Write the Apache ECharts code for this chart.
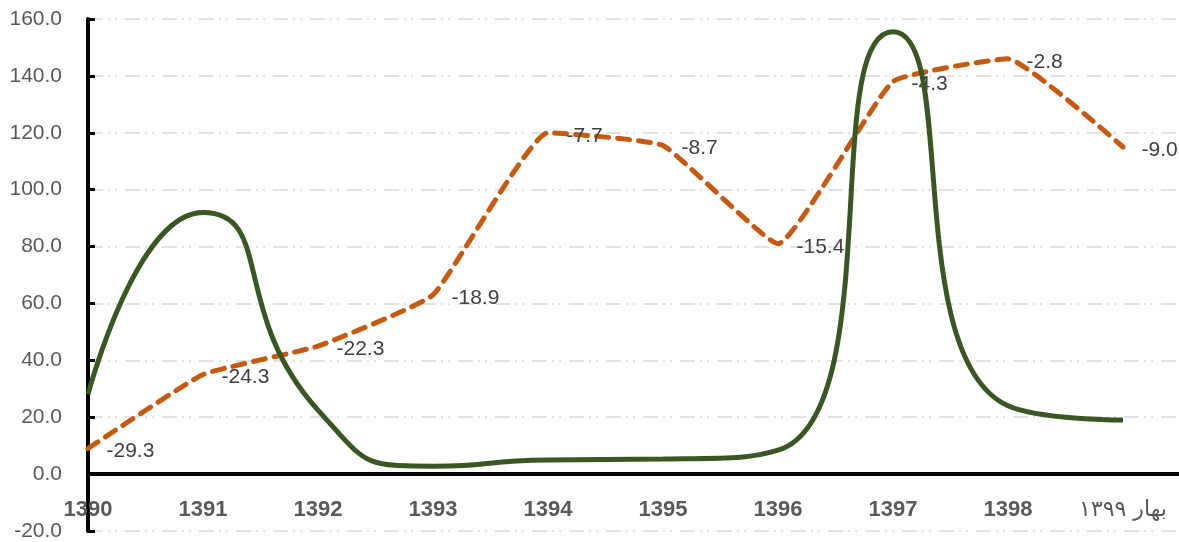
<!DOCTYPE html>
<html>
<head>
<meta charset="utf-8">
<script src="https://cdn.jsdelivr.net/npm/echarts@6/dist/echarts.min.js"></script>
<style>
  html, body { margin: 0; padding: 0; background: #fff; }
  #chart { width: 1179px; height: 542px; }
</style>
</head>
<body>
<div id="chart"></div>
<script>
// ---------- data ----------
const years = ['1390', '1391', '1392', '1393', '1394', '1395', '1396', '1397', '1398', 'بهار ۱۳۹۹']
const greenValues = [28, 92, 22.5, 2.8, 5, 5.3, 8.4, 155.5, 24, 19]
const orangeValues = [9, 35, 45, 63, 120, 115.5, 81, 138, 146, 115]
const orangeLabels = ['-29.3', '-24.3', '-22.3', '-18.9', '-7.7', '-8.7', '-15.4', '-4.3', '-2.8', '-9.0']
const yTicks = { min: -20, max: 160, interval: 20 }

const FONT = "'Liberation Sans', 'DejaVu Sans', sans-serif"

const chart = echarts.init(document.getElementById('chart'))

const toPairs = (arr) => arr.map((v, i) => [i, v])

chart.setOption({
  animation: false,
  grid: { left: 88, right: 0, top: 19, bottom: 11, outerBoundsMode: 'none', containLabel: false },
  xAxis: {
    type: 'value',
    min: 0,
    max: 9.487,
    interval: 1,
    axisLine: { onZero: true, lineStyle: { color: '#000', width: 4 } },
    axisTick: { show: false },
    splitLine: { show: false },
    axisLabel: {
      showMaxLabel: false,
      // labels stay at the grid bottom in v6, pull them up under the zero line
      margin: -32,
      color: '#595959',
      fontSize: 22,
      fontWeight: 'bold',
      fontFamily: FONT,
      formatter: (v) => {
        if (!Number.isInteger(v) || years[v] === undefined) return ''
        // persian label is not bold in the source
        return v === years.length - 1 ? '{fa|' + years[v] + '}' : years[v]
      },
      rich: {
        fa: { fontSize: 22, fontWeight: 'normal', color: '#595959', fontFamily: "'DejaVu Sans', sans-serif" }
      }
    }
  },
  yAxis: {
    type: 'value',
    min: yTicks.min,
    max: yTicks.max,
    interval: yTicks.interval,
    axisLine: { show: true, onZero: false, lineStyle: { color: '#000', width: 4 } },
    axisTick: { show: true, inside: true, length: 7, lineStyle: { color: '#000', width: 3 } },
    splitLine: {
      lineStyle: { color: '#d9d9d9', width: 1.5, type: [15, 5, 2, 5, 2, 8] }
    },
    axisLabel: {
      margin: 26,
      color: '#595959',
      fontSize: 21,
      fontFamily: FONT,
      formatter: (v) => v.toFixed(1)
    }
  },
  series: [
    {
      name: 'orange',
      type: 'line',
      smooth: 0.12,
      symbol: 'circle',
      symbolSize: 1,
      itemStyle: { color: 'rgba(0,0,0,0)' },
      lineStyle: { color: '#c55a11', width: 5, type: [12, 9], cap: 'round' },
      label: {
        show: true,
        position: 'right',
        distance: 18,
        offset: [0, 3],
        color: '#404040',
        fontSize: 21,
        fontFamily: FONT,
        formatter: (p) => orangeLabels[p.dataIndex]
      },
      z: 2,
      data: toPairs(orangeValues)
    },
    {
      name: 'green',
      type: 'line',
      smooth: 0.6,
      symbol: 'none',
      lineStyle: { color: '#385723', width: 5 },
      z: 3,
      data: toPairs(greenValues)
    }
  ]
})
</script>
</body>
</html>
